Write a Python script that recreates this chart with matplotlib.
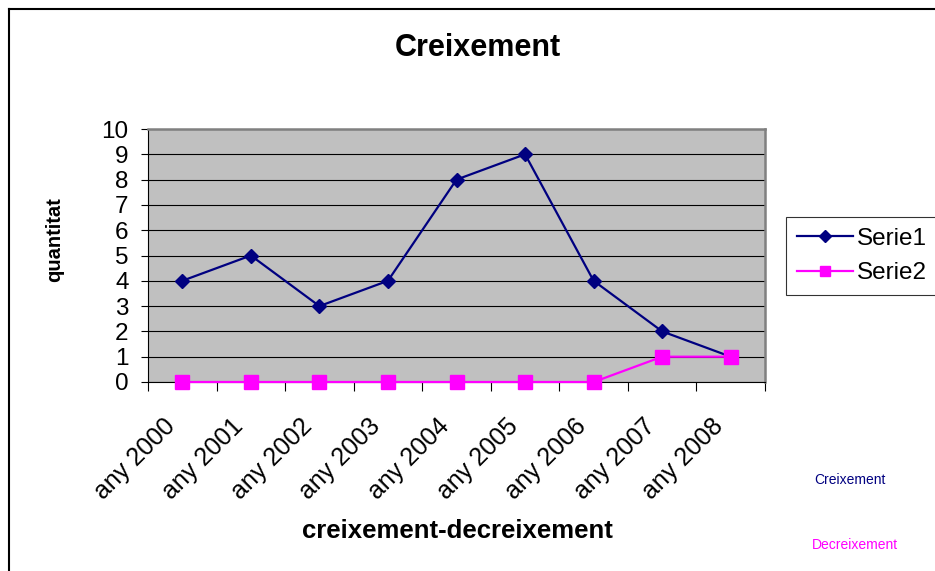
import matplotlib.pyplot as plt
import matplotlib.transforms as mtransforms
from matplotlib.lines import Line2D

plt.rcParams['font.family'] = ['Liberation Sans', 'DejaVu Sans']

years = ["any 2000", "any 2001", "any 2002", "any 2003", "any 2004",
         "any 2005", "any 2006", "any 2007", "any 2008"]
serie1 = [4, 5, 3, 4, 8, 9, 4, 2, 1]
serie2 = [0, 0, 0, 0, 0, 0, 0, 1, 1]

W, H = 935, 571
fig = plt.figure(figsize=(W / 100, H / 100), dpi=100)
fig.patch.set_facecolor("white")

# chart frame (cut at right / bottom like the source screenshot)
fig.add_artist(Line2D([9 / W, 9 / W], [0, 1 - 9 / H], color="black", lw=1.5))
fig.add_artist(Line2D([9 / W, 1], [1 - 9 / H, 1 - 9 / H], color="black", lw=1.5))

ax = fig.add_axes([148 / W, 1 - 382 / H, (765 - 148) / W, (382 - 129) / H])
ax.set_facecolor("#C0C0C0")

x = [i + 0.5 for i in range(len(years))]
ax.plot(x, serie1, color="#000080", lw=1.6, marker="D", ms=7.5,
        label="Serie1", zorder=3, clip_on=False)
ax.plot(x, serie2, color="#FF00FF", lw=1.6, marker="s", ms=10.5,
        label="Serie2", zorder=3, clip_on=False)

ax.set_xlim(0, len(years))
ax.set_ylim(0, 10)
ax.set_yticks(range(0, 11))
ax.set_xticks(range(0, len(years) + 1))
ax.set_xticklabels([])
ax.set_xticks(x, minor=True)
ax.set_xticklabels(years, minor=True, rotation=45, ha="right", va="center",
                   rotation_mode="anchor", fontsize=18)
ax.tick_params(axis="x", which="minor", length=0, pad=22)
ax.tick_params(axis="x", which="major", length=6.5, width=0.8, direction="out")
ax.tick_params(axis="y", length=5, width=0.8, pad=9, labelsize=17.5)
shift = mtransforms.ScaledTranslation(-11 / 100, -10 / 100, fig.dpi_scale_trans)
for lbl in ax.get_xticklabels(minor=True):
    lbl.set_transform(lbl.get_transform() + shift)

ax.grid(axis="y", color="black", lw=0.8)
ax.set_axisbelow(True)
for s in ("top", "right"):
    ax.spines[s].set_color("#808080")
    ax.spines[s].set_linewidth(1.8)
for s in ("left", "bottom"):
    ax.spines[s].set_color("black")
    ax.spines[s].set_linewidth(0.8)

fig.text(478 / W, 1 - 48 / H, "Creixement", ha="center", va="center",
         fontsize=22, fontweight="bold")
fig.text(457 / W, 1 - 531 / H, "creixement-decreixement", ha="center",
         va="center", fontsize=18.5, fontweight="bold")
fig.text(55 / W, 1 - 240 / H, "quantitat", ha="center", va="center",
         rotation=90, fontsize=14.5, fontweight="bold")

leg = fig.legend(loc="upper left", bbox_to_anchor=(786 / W, 1 - 217 / H),
                 fontsize=17.5, frameon=True, fancybox=False, edgecolor="black",
                 handlelength=2.3, borderpad=0.45, labelspacing=0.5,
                 handletextpad=0.15, borderaxespad=0, markerscale=0.75)
leg.get_frame().set_linewidth(0.8)

fig.text(850 / W, 1 - 480 / H, "Creixement", ha="center", va="center",
         fontsize=10, color="#000080")
fig.text(855 / W, 1 - 545 / H, "Decreixement", ha="center", va="center",
         fontsize=10, color="#FF00FF")

fig.savefig("out.png", dpi=100)
